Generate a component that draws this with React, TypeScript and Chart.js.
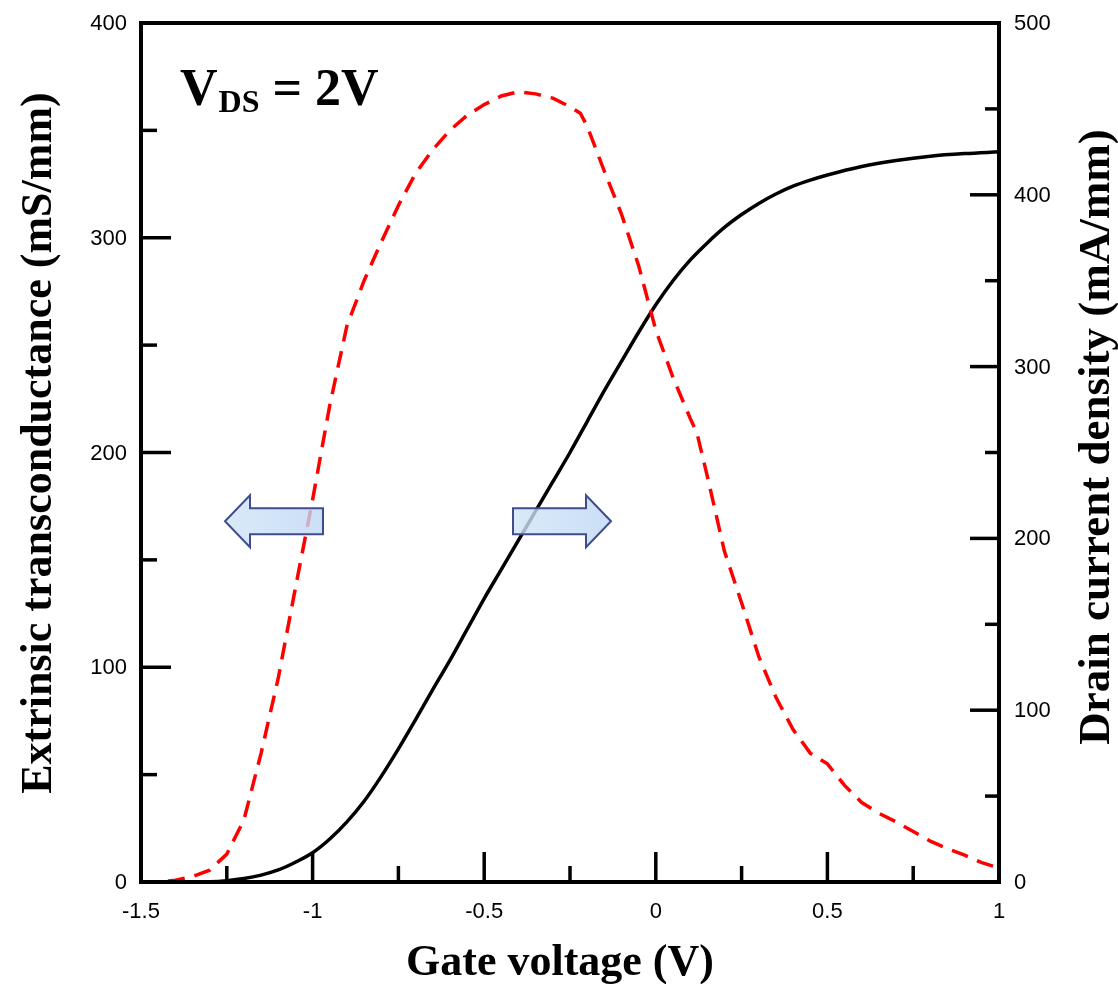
import React, { useEffect, useRef } from "react";
import { Chart, registerables } from "chart.js";

Chart.register(...registerables);

// Extrinsic transconductance gm (mS/mm) vs gate voltage, left axis
const gmGateVoltage = [
  -1.5, -1.45, -1.4, -1.35, -1.3, -1.25, -1.2, -1.15, -1.1, -1.05, -1.0, -0.95, -0.9, -0.85,
  -0.8, -0.75, -0.7, -0.65, -0.6, -0.55, -0.5, -0.45, -0.4, -0.35, -0.3, -0.25, -0.22, -0.2,
  -0.15, -0.1, -0.05, 0.0, 0.05, 0.1, 0.12, 0.15, 0.2, 0.25, 0.3, 0.35, 0.4, 0.45, 0.5, 0.55,
  0.6, 0.65, 0.7, 0.75, 0.8, 0.85, 0.9, 0.95, 1.0,
];
const transconductance = [
  0, 0, 0.8, 2.5, 5.5, 13, 29, 60, 95, 137, 178, 222, 259, 280,
  298, 315, 330, 341, 350, 357, 362, 366, 368, 367, 365, 361, 358, 352,
  331, 311, 287, 257, 235, 216, 209, 189, 154, 130, 105, 86, 71, 60, 55, 45,
  37, 32, 28, 23.5, 19, 15.5, 12.5, 9, 6.5,
];

// Drain current density Id (mA/mm) vs gate voltage, right axis
const idGateVoltage = [
  -1.5, -1.4, -1.3, -1.25, -1.2, -1.15, -1.1, -1.05, -1.0, -0.95, -0.9, -0.85, -0.8, -0.75,
  -0.7, -0.65, -0.6, -0.55, -0.5, -0.45, -0.4, -0.35, -0.3, -0.25, -0.2, -0.15, -0.1, -0.05,
  0.0, 0.05, 0.1, 0.15, 0.2, 0.25, 0.3, 0.35, 0.4, 0.45, 0.5, 0.6, 0.7, 0.8, 0.9, 1.0,
];
const drainCurrent = [
  0, 0, 0.2, 0.8, 2, 4, 7, 11.5, 17, 25, 35, 47, 61.5, 77.5,
  94.5, 112, 129, 147, 165, 182, 199, 216, 233, 250, 268, 286, 303, 320,
  336, 350, 362, 372, 381, 388.5, 395, 400.5, 405, 408.5, 411.5, 416.5, 420, 422.5, 424, 425,
];

const xTickValues = [-1.5, -1, -0.5, 0, 0.5, 1];
const xTickLabels = ["-1.5", "-1", "-0.5", "0", "0.5", "1"];
const gmTickValues = [0, 100, 200, 300, 400];
const idTickValues = [0, 100, 200, 300, 400, 500];

const xTitle = "Gate voltage (V)";
const gmTitle = "Extrinsic transconductance (mS/mm)";
const idTitle = "Drain current density (mA/mm)";

const SERIF = "'Liberation Serif', 'Times New Roman', serif";
const SANS = "'Liberation Sans', Arial, sans-serif";

function midpoints(values: number[]): number[] {
  const out: number[] = [];
  for (let i = 0; i < values.length - 1; i++) out.push((values[i] + values[i + 1]) / 2);
  return out;
}

// block arrows pointing from the curves towards their axes (x in volts, y on gm axis)
const axisArrows = [
  { tip: -1.2552, tail: -0.9697, level: 168 },
  { tip: -0.1305, tail: -0.4161, level: 168 },
];

const decorations = {
  id: "decorations",
  afterDatasetsDraw(chart: any) {
    const { ctx, chartArea: a, scales } = chart;
    const xs = scales.x;
    const yl = scales.y;
    const yr = scales.y2;
    ctx.save();

    // arrows
    axisArrows.forEach((ar) => {
      const tip = xs.getPixelForValue(ar.tip);
      const tail = xs.getPixelForValue(ar.tail);
      const cy = yl.getPixelForValue(ar.level);
      const dir = tail > tip ? 1 : -1;
      const base = tip + dir * 25;
      const bh = 13;
      const hh = 26;
      ctx.beginPath();
      ctx.moveTo(tip, cy);
      ctx.lineTo(base, cy - hh);
      ctx.lineTo(base, cy - bh);
      ctx.lineTo(tail, cy - bh);
      ctx.lineTo(tail, cy + bh);
      ctx.lineTo(base, cy + bh);
      ctx.lineTo(base, cy + hh);
      ctx.closePath();
      const g = ctx.createLinearGradient(Math.min(tip, tail), 0, Math.max(tip, tail), 0);
      g.addColorStop(0, "rgba(208, 228, 248, 0.8)");
      g.addColorStop(1, "rgba(190, 215, 243, 0.8)");
      ctx.fillStyle = g;
      ctx.fill();
      ctx.strokeStyle = "#414c8e";
      ctx.lineWidth = 2;
      ctx.lineJoin = "miter";
      ctx.stroke();
    });

    // frame
    ctx.strokeStyle = "#000";
    ctx.lineWidth = 4;
    ctx.strokeRect(a.left, a.top, a.right - a.left, a.bottom - a.top);

    // inward ticks
    ctx.lineWidth = 3.5;
    ctx.lineCap = "butt";
    const seg = (x1: number, y1: number, x2: number, y2: number) => {
      ctx.beginPath();
      ctx.moveTo(x1, y1);
      ctx.lineTo(x2, y2);
      ctx.stroke();
    };
    xTickValues.forEach((v) => {
      const p = xs.getPixelForValue(v);
      seg(p, a.bottom, p, a.bottom - 30);
    });
    midpoints(xTickValues).forEach((v) => {
      const p = xs.getPixelForValue(v);
      seg(p, a.bottom, p, a.bottom - 16);
    });
    gmTickValues.forEach((v) => {
      const p = yl.getPixelForValue(v);
      seg(a.left, p, a.left + 30, p);
    });
    midpoints(gmTickValues).forEach((v) => {
      const p = yl.getPixelForValue(v);
      seg(a.left, p, a.left + 16, p);
    });
    idTickValues.forEach((v) => {
      const p = yr.getPixelForValue(v);
      seg(a.right, p, a.right - 29, p);
    });
    midpoints(idTickValues).forEach((v) => {
      const p = yr.getPixelForValue(v);
      seg(a.right, p, a.right - 14, p);
    });

    // tick labels
    ctx.fillStyle = "#000";
    ctx.font = `22px ${SANS}`;
    ctx.textBaseline = "middle";
    ctx.textAlign = "center";
    xTickValues.forEach((v, i) => {
      ctx.fillText(xTickLabels[i], xs.getPixelForValue(v), a.bottom + 30);
    });
    ctx.textAlign = "right";
    gmTickValues.forEach((v) => {
      ctx.fillText(String(v), a.left - 14, yl.getPixelForValue(v) + 1);
    });
    ctx.textAlign = "left";
    idTickValues.forEach((v) => {
      ctx.fillText(String(v), a.right + 15, yr.getPixelForValue(v) + 1);
    });

    // axis titles
    ctx.textBaseline = "alphabetic";
    ctx.font = `bold 44px ${SERIF}`;
    ctx.textAlign = "center";
    ctx.fillText(xTitle, 560, 975);

    ctx.save();
    ctx.translate(51, 443);
    ctx.rotate(-Math.PI / 2);
    ctx.fillText(gmTitle, 0, 0);
    ctx.restore();

    ctx.save();
    ctx.translate(1109, 437);
    ctx.rotate(-Math.PI / 2);
    ctx.font = `bold 45px ${SERIF}`;
    ctx.fillText(idTitle, 0, 0);
    ctx.restore();

    // bias condition label
    ctx.textAlign = "left";
    ctx.font = `bold 52px ${SERIF}`;
    let cx = 180;
    ctx.fillText("V", cx, 105);
    cx += ctx.measureText("V").width + 1;
    ctx.font = `bold 32px ${SERIF}`;
    ctx.fillText("DS", cx, 112);
    cx += ctx.measureText("DS").width + 13;
    ctx.font = `bold 52px ${SERIF}`;
    ctx.fillText("= 2V", cx, 105);

    ctx.restore();
  },
};

export default function App() {
  const canvasRef = useRef<HTMLCanvasElement | null>(null);

  useEffect(() => {
    const canvas = canvasRef.current;
    if (!canvas) return;
    const chart = new Chart(canvas, {
      type: "line",
      data: {
        datasets: [
          {
            label: "Drain current density",
            data: idGateVoltage.map((v, i) => ({ x: v, y: drainCurrent[i] })),
            yAxisID: "y2",
            borderColor: "#000000",
            borderWidth: 3.5,
            pointRadius: 0,
            cubicInterpolationMode: "monotone",
            fill: false,
            order: 2,
          },
          {
            label: "Extrinsic transconductance",
            data: gmGateVoltage.map((v, i) => ({ x: v, y: transconductance[i] })),
            yAxisID: "y",
            borderColor: "#ff0000",
            borderWidth: 3.5,
            borderDash: [17, 10],
            borderCapStyle: "butt",
            pointRadius: 0,
            tension: 0,
            fill: false,
            order: 1,
          },
        ],
      },
      options: {
        responsive: false,
        animation: false,
        layout: { padding: { left: 141, top: 23, right: 119, bottom: 102 } },
        plugins: {
          legend: { display: false },
          tooltip: { enabled: false },
        },
        scales: {
          x: { type: "linear", min: -1.5, max: 1, display: false },
          y: { type: "linear", min: 0, max: 400, display: false },
          y2: { type: "linear", min: 0, max: 500, display: false, position: "right" },
        },
      },
      plugins: [decorations],
    });
    return () => chart.destroy();
  }, []);

  return (
    <div style={{ position: "absolute", left: 0, top: 0, width: 1118, height: 984, background: "#fff" }}>
      <canvas ref={canvasRef} width={1118} height={984} style={{ display: "block" }} />
    </div>
  );
}
